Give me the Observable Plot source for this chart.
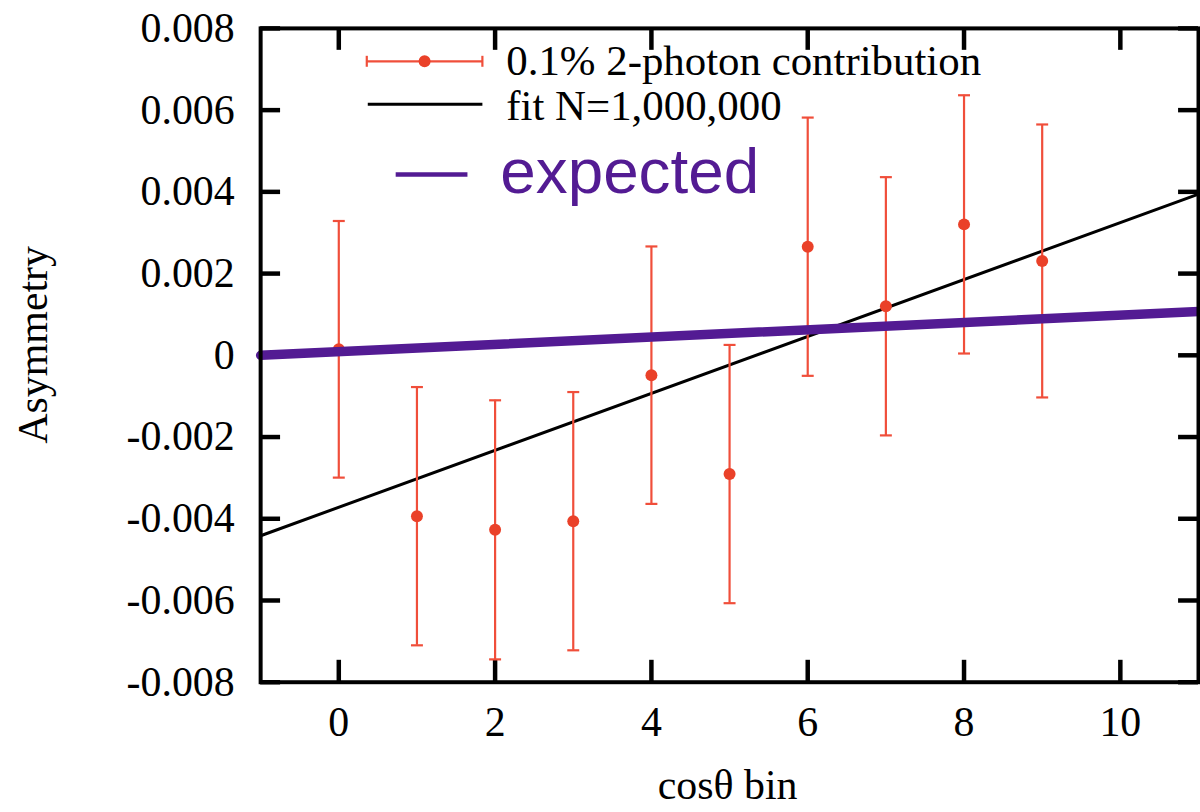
<!DOCTYPE html>
<html>
<head>
<meta charset="utf-8">
<script src="https://cdn.jsdelivr.net/npm/d3@7"></script>
<script src="https://cdn.jsdelivr.net/npm/@observablehq/plot@0.6"></script>
<style>
  html, body { margin: 0; padding: 0; background: #fff; overflow: hidden; width: 1200px; height: 812px; }
  #chart svg { display: block; }
</style>
</head>
<body>
<div id="chart"></div>
<script>
// ---- data ----
const bins = [0, 1, 2, 3, 4, 5, 6, 7, 8, 9];
const asymmetry = [0.000147, -0.003937, -0.004271, -0.004059, -0.000486, -0.002906, 0.002658, 0.00120, 0.003204, 0.002309];
const errors = [0.00314, 0.00316, 0.00317, 0.00316, 0.00315, 0.00316, 0.00316, 0.00316, 0.00316, 0.00334];
const fitX = [-1, 11];
const fitY = [-0.004415, 0.003944];
const expectedX = [-1, 11];
const expectedY = [0.0, 0.00107];
const xTicks = [0, 2, 4, 6, 8, 10];
const yTicks = [-0.008, -0.006, -0.004, -0.002, 0, 0.002, 0.004, 0.006, 0.008];
const legendLabels = ["0.1% 2-photon contribution", "fit N=1,000,000", "expected"];
const xLabel = "cosθ bin";
const yLabel = "Asymmetry";

// ---- build ----
const points = bins.map((b, i) => ({bin: b, a: asymmetry[i], lo: asymmetry[i] - errors[i], hi: asymmetry[i] + errors[i]}));
const fit = fitX.map((x, i) => ({x, y: fitY[i]}));
const expected = expectedX.map((x, i) => ({x, y: expectedY[i]}));

const W = 1204, H = 812;
const mL = 261, mR = 2, mT = 28, mB = 128;
const plotW = W - mL - mR, plotH = H - mT - mB;
const RED_BAR = "#f04e3a", RED_DOT = "#ea4129", PURPLE = "#531b93";
const serif = "'Liberation Serif', 'Times New Roman', serif";

const capSymbol = {
  draw(context, size) {
    const r = Math.sqrt(size / Math.PI);
    context.moveTo(-r, 0);
    context.lineTo(r, 0);
  }
};

const svg = Plot.plot({
  width: W, height: H,
  marginLeft: mL, marginRight: mR, marginTop: mT, marginBottom: mB,
  style: {fontFamily: serif, fontSize: "42px", color: "black", background: "white"},
  x: {domain: [-1, 11]},
  y: {domain: [-0.008, 0.008]},
  marks: [
    Plot.axisX({ticks: xTicks, tickSize: 0, tickPadding: 24, tickFormat: d => String(d), label: null, fontSize: 42}),
    Plot.axisY({ticks: yTicks, tickSize: 0, tickPadding: 26, tickFormat: d => d === 0 ? "0" : d.toFixed(3), label: null, fontSize: 42}),
    // inward ticks
    Plot.tickY(yTicks, {y: d => d, stroke: "black", strokeWidth: 4.5, insetRight: plotW - 20}),
    Plot.tickY(yTicks, {y: d => d, stroke: "black", strokeWidth: 4.5, insetLeft: plotW - 20}),
    Plot.tickX(xTicks, {x: d => d, stroke: "black", strokeWidth: 4.5, insetTop: plotH - 22}),
    Plot.tickX(xTicks, {x: d => d, stroke: "black", strokeWidth: 4.5, insetBottom: plotH - 22}),
    Plot.line(fit, {x: "x", y: "y", stroke: "black", strokeWidth: 3}),
    Plot.ruleX(points, {x: "bin", y1: "lo", y2: "hi", stroke: RED_BAR, strokeWidth: 2.2}),
    Plot.dot(points, {x: "bin", y: "hi", symbol: capSymbol, r: 6, stroke: RED_BAR, strokeWidth: 2.2}),
    Plot.dot(points, {x: "bin", y: "lo", symbol: capSymbol, r: 6, stroke: RED_BAR, strokeWidth: 2.2}),
    Plot.dot(points, {x: "bin", y: "a", r: 6, fill: RED_DOT, stroke: "none"}),
    Plot.line(expected, {x: "x", y: "y", stroke: PURPLE, strokeWidth: 9.5}),
    Plot.frame({stroke: "black", strokeWidth: 4})
  ]
});

// ---- legend & axis titles ----
const g = d3.select(svg).append("g").attr("text-anchor", "start");
// item 1: error bar with point
g.append("line").attr("x1", 368).attr("x2", 484).attr("y1", 61.5).attr("y2", 61.5).attr("stroke", RED_BAR).attr("stroke-width", 2.2);
[368, 484].forEach(x => g.append("line").attr("x1", x).attr("x2", x).attr("y1", 56).attr("y2", 67).attr("stroke", RED_BAR).attr("stroke-width", 2.2));
g.append("circle").attr("cx", 426).attr("cy", 61.5).attr("r", 6).attr("fill", RED_DOT);
g.append("text").attr("x", 508).attr("y", 75).attr("text-anchor", "start").attr("font-family", serif).attr("font-size", 43).attr("fill", "black").text(legendLabels[0]);
// item 2: fit line
g.append("line").attr("x1", 369).attr("x2", 484).attr("y1", 104.5).attr("y2", 104.5).attr("stroke", "black").attr("stroke-width", 3);
g.append("text").attr("x", 508).attr("y", 120).attr("text-anchor", "start").attr("font-family", serif).attr("font-size", 43).attr("fill", "black").text(legendLabels[1]);
// item 3: expected
g.append("line").attr("x1", 397).attr("x2", 469).attr("y1", 175).attr("y2", 175).attr("stroke", PURPLE).attr("stroke-width", 4.5);
g.append("text").attr("x", 502).attr("y", 194).attr("text-anchor", "start").attr("font-family", "'Liberation Sans', Arial, sans-serif").attr("font-size", 64).attr("fill", PURPLE).text(legendLabels[2]);
// axis titles
g.append("text").attr("transform", "translate(47,346) rotate(-90)").attr("text-anchor", "middle").attr("font-family", serif).attr("font-size", 42).attr("fill", "black").text(yLabel);
g.append("text").attr("x", 730).attr("y", 802).attr("text-anchor", "middle").attr("font-family", serif).attr("font-size", 42).attr("fill", "black").text(xLabel);

document.getElementById("chart").appendChild(svg);
</script>
</body>
</html>
